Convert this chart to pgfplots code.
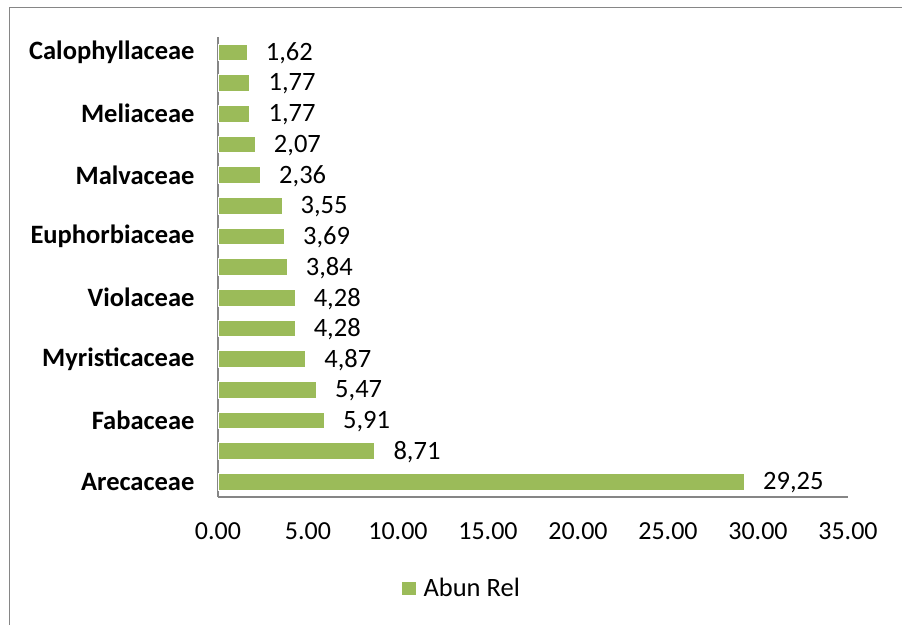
\documentclass[border=0pt]{standalone}
\usepackage{pgfplots}
\pgfplotsset{compat=1.18}
\usepackage{fontspec}
\setmainfont{Carlito}
\definecolor{bargreen}{HTML}{9BBB59}
\definecolor{axgray}{HTML}{868686}
\begin{document}
\begin{tikzpicture}[x=1pt,y=1pt]
\useasboundingbox (0,0) rectangle (902,625);
\draw[axgray,line width=1.5pt] (9.5,0) -- (9.5,617.5) -- (902,617.5);
\begin{axis}[
  at={(218pt,128pt)}, anchor=south west,
  scale only axis, width=630pt, height=460pt,
  xbar, bar width=16.5pt,
  xmin=0, xmax=35, ymin=-0.5, ymax=14.5,
  axis x line=bottom, axis y line=left,
  axis line style={axgray, line width=1.2pt, -},
  xtick={0,5,...,35},
  xticklabel style={font=\fontsize{26}{30}\selectfont, yshift=-22pt,
    /pgf/number format/fixed, /pgf/number format/fixed zerofill, /pgf/number format/precision=2, /pgf/number format/assume math mode=true},
  ytick={0,2,4,6,8,10,12,14},
  yticklabels={Arecaceae,Fabaceae,Myristicaceae,Violaceae,Euphorbiaceae,Malvaceae,Meliaceae,Calophyllaceae},
  yticklabel style={font=\fontsize{26.5}{30}\selectfont\bfseries, xshift=-20pt},
  major tick length=0pt,
  nodes near coords,
  every node near coord/.append style={font=\fontsize{26.5}{30}\selectfont, anchor=west, xshift=15pt, yshift=-1pt,
    /pgf/number format/fixed, /pgf/number format/fixed zerofill, /pgf/number format/precision=2, /pgf/number format/use comma, /pgf/number format/assume math mode=true},
  legend style={at={(0.387,-0.198)}, anchor=center, draw=none, font=\fontsize{26.5}{30}\selectfont},
  legend image code/.code={\path (0pt,0pt) -- (19pt,0pt);\fill[bargreen] (0pt,-6pt) rectangle (13pt,6pt);},
  clip=false,
]
\addplot[fill=bargreen, draw=white, line width=0.8pt] coordinates {
(29.25,0) (8.71,1) (5.91,2) (5.47,3) (4.87,4) (4.28,5) (4.28,6) (3.84,7)
(3.69,8) (3.55,9) (2.36,10) (2.07,11) (1.77,12) (1.77,13) (1.62,14)};
\addlegendentry{Abun Rel}
\end{axis}
\end{tikzpicture}
\end{document}
